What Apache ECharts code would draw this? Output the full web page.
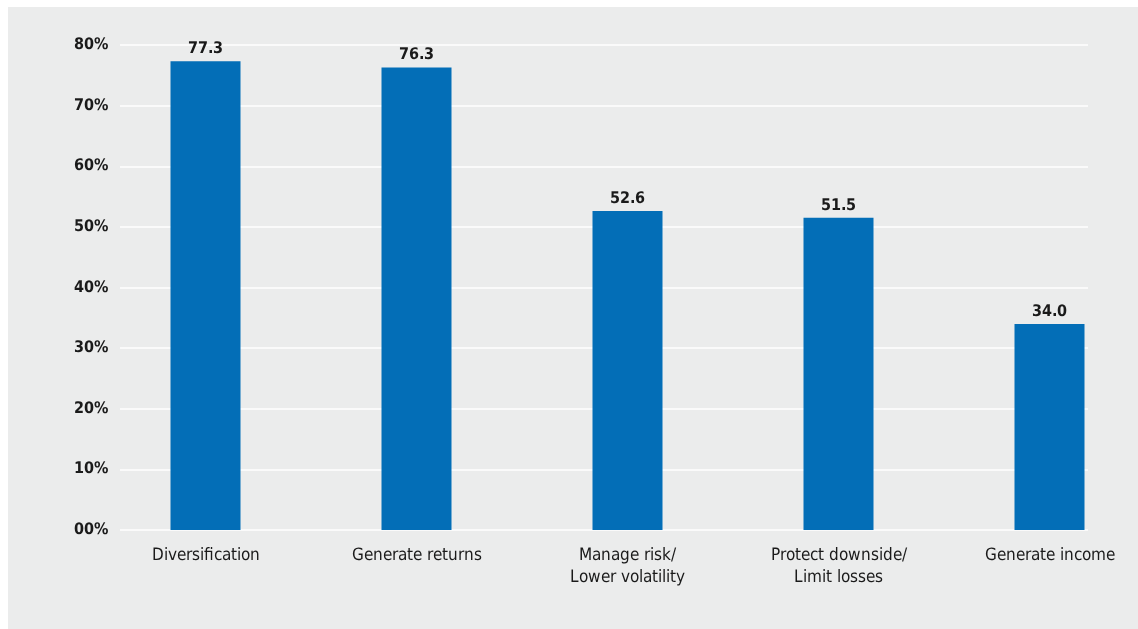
<!DOCTYPE html>
<html>
<head>
<meta charset="utf-8">
<style>
  html, body { margin: 0; padding: 0; background: #ffffff; }
  #chart { width: 1138px; height: 629px; }
  @font-face {
    font-family: 'CondSans';
    font-weight: normal;
    src: local('Liberation Sans Narrow'), local('LiberationSansNarrow-Regular'),
         local('DejaVu Sans Condensed'), local('DejaVuSansCondensed');
  }
  @font-face {
    font-family: 'CondSans';
    font-weight: bold;
    src: local('Liberation Sans Narrow Bold'), local('LiberationSansNarrow-Bold'),
         local('DejaVu Sans Condensed Bold'), local('DejaVuSansCondensed-Bold');
  }
</style>
<script src="https://cdn.jsdelivr.net/npm/echarts@6/dist/echarts.min.js"></script>
</head>
<body>
<div id="chart"></div>
<script>
// Reasons for investing: share of respondents (%)
const categories = [
  'Diversification',
  'Generate returns',
  'Manage risk/\nLower volatility',
  'Protect downside/\nLimit losses',
  'Generate income'
];
const values = [77.3, 76.3, 52.6, 51.5, 34.0];
const tickLabels = ['00%', '10%', '20%', '30%', '40%', '50%', '60%', '70%', '80%'];

const FONT = 'CondSans, "DejaVu Sans", sans-serif';
const GRID_TOP = 45;
const GRID_BOTTOM = 99;

function draw() {
  const chart = echarts.init(document.getElementById('chart'), null, { renderer: 'canvas' });
  chart.setOption({
    backgroundColor: '#ffffff',
    animation: false,
    graphic: [{
      type: 'rect',
      z: -10,
      shape: { x: 8, y: 7, width: 1130, height: 622 },
      style: { fill: '#ebecec' }
    }],
    grid: [
      // value axis, tick labels and white gridlines
      { left: 120, right: 50, top: GRID_TOP, bottom: GRID_BOTTOM, outerBoundsMode: 'none' },
      // bars and category labels
      { left: 100, width: 1055, top: GRID_TOP, bottom: GRID_BOTTOM, outerBoundsMode: 'none' }
    ],
    xAxis: [
      { gridIndex: 0, type: 'value', show: false, min: 0, max: 1 },
      {
        gridIndex: 1,
        type: 'category',
        data: categories,
        axisLine: { show: false },
        axisTick: { show: false },
        axisLabel: {
          interval: 0,
          margin: 15,
          color: '#1a1a1a',
          fontFamily: FONT,
          fontSize: 17,
          lineHeight: 22,
          hideOverlap: false
        }
      }
    ],
    yAxis: [
      {
        gridIndex: 0,
        type: 'value',
        min: 0,
        max: 80,
        interval: 10,
        axisLine: { show: false },
        axisTick: { show: false },
        splitLine: { show: true, lineStyle: { color: '#ffffff', width: 1.5 } },
        axisLabel: {
          margin: 12,
          color: '#1a1a1a',
          fontFamily: FONT,
          fontWeight: 'bold',
          fontSize: 15.5,
          formatter: (v) => tickLabels[Math.round(v / 10)]
        }
      },
      {
        gridIndex: 1,
        type: 'value',
        min: 0,
        max: 80,
        interval: 10,
        show: false,
        splitLine: { show: false }
      }
    ],
    series: [{
      type: 'bar',
      xAxisIndex: 1,
      yAxisIndex: 1,
      data: values,
      barWidth: 70,
      itemStyle: { color: '#036eb7' },
      label: {
        show: true,
        position: 'top',
        distance: 4,
        color: '#1a1a1a',
        fontFamily: FONT,
        fontWeight: 'bold',
        fontSize: 15.5,
        formatter: (p) => p.value.toFixed(1)
      }
    }]
  });
}

Promise.all([
  document.fonts.load('normal 17px CondSans'),
  document.fonts.load('bold 15.5px CondSans')
]).then(draw, draw);
</script>
</body>
</html>
